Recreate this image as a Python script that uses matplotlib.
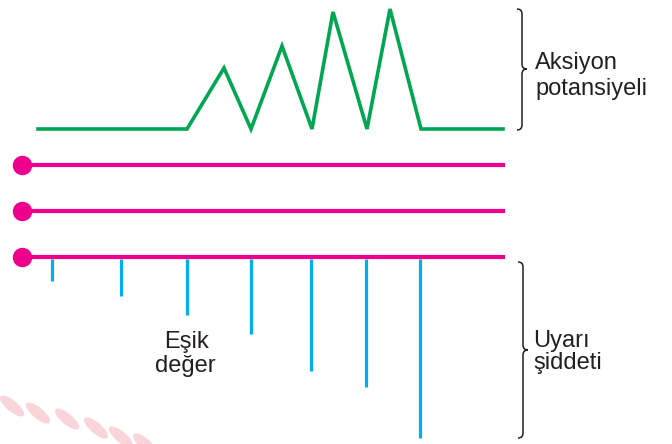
import matplotlib
matplotlib.use("Agg")
import matplotlib.pyplot as plt
from matplotlib.path import Path
from matplotlib.patches import PathPatch, Ellipse

# ---- data (pixel-space units) ----
# action potential trace (green)
ap_x = [38, 187, 224, 251, 282, 312, 333, 367, 390, 421, 503]
ap_y = [129, 129, 68, 129, 46, 129, 12, 129, 9, 129, 129]

# neuron lines (pink) with dot at left
nerve_y = [165, 211, 257]
nerve_x0, nerve_x1 = 22, 505

# stimulus intensity bars (blue), hanging from the lowest line
stim_x = [52, 121, 187, 251, 311, 366, 420]
stim_len = [22, 37, 56, 75, 112, 128, 179]
stim_top = 259

label_ap = ["Aksiyon", "potansiyeli"]
label_stim = ["Uyarı", "şiddeti"]
label_thr = ["Eşik", "değer"]

GREEN = "#00A651"
PINK = "#EC008C"
BLUE = "#00AEEF"
DARK = "#231F20"

fig = plt.figure(figsize=(6.72, 4.44), dpi=100)
ax = fig.add_axes([0, 0, 1, 1])
ax.set_xlim(0, 672)
ax.set_ylim(444, 0)
ax.axis("off")

# watermark decoration
for cx, cy in [(12, 406), (38, 413), (67, 419), (96, 428), (121, 437), (145, 444)]:
    ax.add_patch(Ellipse((cx, cy), 30, 11, angle=40, color="#F9D5DA", lw=0, zorder=0))

# green action potential
ax.plot(ap_x, ap_y, color=GREEN, lw=2.6, solid_joinstyle="miter", zorder=3)

# pink lines
for y in nerve_y:
    ax.plot([nerve_x0, nerve_x1], [y, y], color=PINK, lw=3.0, solid_capstyle="butt", zorder=3)
    ax.plot([nerve_x0], [y], "o", color=PINK, ms=13, zorder=4)

# blue stimulus bars
for x, L in zip(stim_x, stim_len):
    ax.plot([x, x], [stim_top, stim_top + L], color=BLUE, lw=2.3, solid_capstyle="butt", zorder=2)


def brace(x, y0, y1, ym, w=5):
    verts = [
        (x - w, y0), (x, y0), (x, y0 + w),
        (x, ym - w),
        (x, ym), (x + w, ym),
        (x, ym), (x, ym + w),
        (x, y1 - w),
        (x, y1), (x - w, y1),
    ]
    codes = [Path.MOVETO, Path.CURVE3, Path.CURVE3,
             Path.LINETO,
             Path.CURVE3, Path.CURVE3,
             Path.CURVE3, Path.CURVE3,
             Path.LINETO,
             Path.CURVE3, Path.CURVE3]
    ax.add_patch(PathPatch(Path(verts, codes), fill=False, ec=DARK, lw=1.1, zorder=3))


brace(522, 9, 130, 69)
brace(523, 262, 438, 350)

font = dict(family=["Liberation Sans", "DejaVu Sans"], fontsize=17, color=DARK)
ax.text(535, 69, label_ap[0], ha="left", va="baseline", **font)
ax.text(535, 95, label_ap[1], ha="left", va="baseline", **font)
ax.text(533, 347, label_stim[0], ha="left", va="baseline", **font)
ax.text(533, 369, label_stim[1], ha="left", va="baseline", **font)
ax.text(186, 348, label_thr[0], ha="center", va="baseline", **font)
ax.text(185, 372, label_thr[1], ha="center", va="baseline", **font)

fig.savefig("out.png", dpi=100)
